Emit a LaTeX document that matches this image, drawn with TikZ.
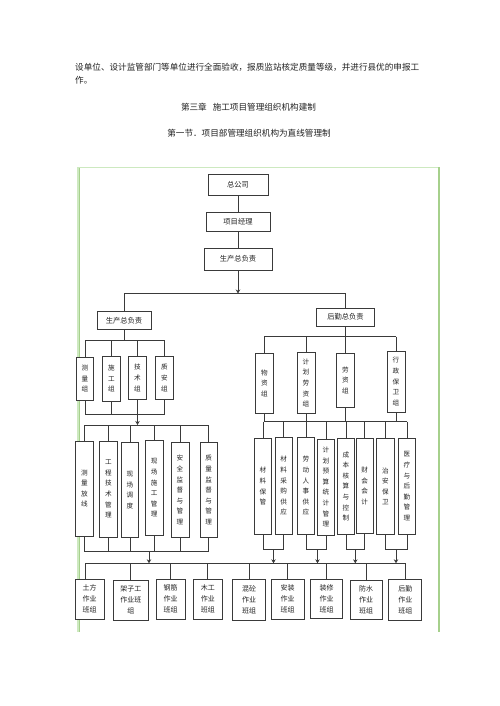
\documentclass[tikz,border=0pt]{standalone}
\usepackage{fontspec}
\setmainfont{Noto Sans CJK SC}
\usetikzlibrary{arrows.meta}
\definecolor{boxc}{HTML}{3A3A3A}
\definecolor{linec}{HTML}{3A3A3A}
\definecolor{txtc}{HTML}{222222}
\definecolor{frameA}{HTML}{CDE9C0}
\definecolor{frameB}{HTML}{A6D08C}
\begin{document}
\begin{tikzpicture}[x=1pt,y=-1pt,
 box/.style={draw=boxc,line width=0.9pt,fill=white,inner sep=0pt,align=center,text=txtc},
 hbox/.style={box,font=\fontsize{7.3}{9}\selectfont},
 vbox/.style={box,font=\fontsize{6.6}{10.6}\selectfont,minimum width=17.5pt},
 bbox/.style={box,font=\fontsize{7}{11}\selectfont,minimum height=40pt},
 ln/.style={draw=linec,line width=0.8pt},
 arr/.style={ln,-{Stealth[length=4pt,width=4.5pt]}},
 ttl/.style={font=\fontsize{8.6}{11}\selectfont,text=txtc,inner sep=0pt},
]
\useasboundingbox[fill=white] (0,0) rectangle (500,706);

% frame
\fill[frameA] (76.5,167) rectangle (79,632);
\draw[frameB,line width=0.8pt] (79.3,167) -- (79.3,632);
\draw[frameA,line width=1pt] (78,167) -- (439,167);
\draw[frameB,line width=1.4pt] (439,167) -- (439,632);

% text
\node[ttl,anchor=west] (t1) at (75,67) {设单位、设计监管部门等单位进行全面验收，报质监站核定质量等级，并进行县优的申报工};
\node[ttl,anchor=west] (t2) at (75,80) {作。};
\node[ttl] (t3) at (248.5,107) {第三章\hspace{6pt}施工项目管理组织机构建制};
\node[ttl] (t4) at (249,133) {第一节．项目部管理组织机构为直线管理制};

% top chain
\node[hbox,minimum width=60pt,minimum height=21pt] (gs) at (238,184.5) {总公司};
\node[hbox,minimum width=64pt,minimum height=19pt] (xm) at (238,221.5) {项目经理};
\node[hbox,minimum width=68pt,minimum height=22pt] (sc0) at (238,259) {生产总负责};
\coordinate (j0) at (238,293.5);
\draw[ln] (gs) -- (xm);
\draw[ln] (xm) -- (sc0);
\draw[arr] (sc0) -- (j0);

\node[hbox,minimum width=54pt,minimum height=18pt] (scL) at (124,320.5) {生产总负责};
\node[hbox,minimum width=58pt,minimum height=18pt] (hq) at (345.5,317) {后勤总负责};
\draw[ln] (scL.north) -- (scL.north |- j0) -- (hq.north |- j0) -- (hq.north);

% left group
\node[vbox,minimum height=43pt] (L1) at (85,378.5) {测\\量\\组};
\node[vbox,minimum height=45pt] (L2) at (111.5,378.5) {施\\工\\组};
\node[vbox,minimum height=43pt] (L3) at (137.5,378) {技\\术\\组};
\node[vbox,minimum height=43pt] (L4) at (164.5,378) {质\\安\\组};
\coordinate (jL) at (124,340.7);
\draw[ln] (scL.south) -- (jL);
\draw[ln] (jL -| L1.north) -- (jL -| L4.north);
\foreach \n in {L1,L2,L3,L4} \draw[ln] (jL -| \n.north) -- (\n.north);
\coordinate (kL) at (137.5,414.3);
\foreach \n in {L1,L2,L3,L4} \draw[ln] (\n.south) -- (\n.south |- kL);
\draw[ln] (kL -| L1.south) -- (kL -| L4.south);
\coordinate (mL) at (137.5,425);
\draw[arr] (kL) -- (mL);

% left lower group
\node[vbox,minimum height=95pt] (P1) at (84.3,488.5) {测\\量\\放\\线};
\node[vbox,minimum height=96pt] (P2) at (108.3,489) {工\\程\\技\\术\\管\\理};
\node[vbox,minimum height=95pt] (P3) at (130,490) {现\\场\\调\\度};
\node[vbox,minimum height=95pt] (P4) at (154.2,488) {现\\场\\施\\工\\管\\理};
\node[vbox,minimum height=95pt,minimum width=18pt] (P5) at (180,490) {安\\全\\监\\督\\与\\管\\理};
\node[vbox,minimum height=95pt] (P6) at (208.7,490) {质\\量\\监\\督\\与\\管\\理};
\draw[ln] (mL -| P1.north) -- (mL -| P6.north);
\foreach \n in {P1,P2,P3,P4,P5,P6} \draw[ln] (mL -| \n.north) -- (\n.north);
\coordinate (yP) at (0,551.7);
\foreach \n in {P1,P2,P3,P4,P5,P6} \draw[ln] (\n.south) -- (\n.south |- yP);
\draw[ln] (P1.south |- yP) -- (P6.south |- yP);
\coordinate (aP) at (149,563.3);
\draw[arr] (aP |- yP) -- (aP);

% right group
\node[vbox,minimum height=60pt] (R1) at (264.3,383.3) {物\\资\\组};
\node[vbox,minimum height=61pt,minimum width=18pt] (R2) at (306,383) {计\\划\\劳\\资\\组};
\node[vbox,minimum height=54pt] (R3) at (345.3,380.3) {劳\\资\\组};
\node[vbox,minimum height=61pt,minimum width=18pt] (R4) at (396,381.5) {行\\政\\保\\卫\\组};
\coordinate (jR) at (345.3,336.7);
\draw[ln] (hq.south) -- (hq.south |- jR);
\draw[ln] (jR -| R1.north) -- (jR -| R4.north);
\foreach \n in {R1,R2,R3,R4} \draw[ln] (jR -| \n.north) -- (\n.north);

% right lower group
\node[vbox,minimum height=96pt] (Q1) at (263,486.3) {材\\料\\保\\管};
\node[vbox,minimum height=97pt] (Q2) at (283.7,486) {材\\料\\采\\购\\供\\应};
\node[vbox,minimum height=97pt] (Q3) at (306,486) {劳\\动\\人\\事\\供\\应};
\node[vbox,minimum height=96pt] (Q4) at (326,487) {计\\划\\预\\算\\统\\计\\管\\理};
\node[vbox,minimum height=96pt] (Q5) at (346,486.3) {成\\本\\核\\算\\与\\控\\制};
\node[vbox,minimum height=95pt] (Q6) at (364.7,486) {财\\会\\会\\计};
\node[vbox,minimum height=96pt] (Q7) at (385.3,486.3) {治\\安\\保\\卫};
\node[vbox,minimum height=96pt] (Q8) at (407,486.3) {医\\疗\\与\\后\\勤\\管\\理};
\coordinate (kR) at (0,421.7);
\foreach \n in {R1,R2,R3,R4} \draw[ln] (\n.south) -- (\n.south |- kR);
\draw[ln] (R1.south |- kR) -- (Q8.north |- kR);
\foreach \n in {Q1,Q2,Q3,Q4,Q5,Q6,Q7,Q8} \draw[ln] (\n.north |- kR) -- (\n.north);
\coordinate (yQ) at (0,549.3);
\coordinate (a1) at (273.5,563.3);
\coordinate (a2) at (317.5,563.3);
\coordinate (a3) at (355.3,563.3);
\coordinate (a4) at (396,563.3);
\foreach \a/\b/\c in {Q1/Q2/a1,Q3/Q4/a2,Q5/Q6/a3,Q7/Q8/a4}{
  \draw[ln] (\a.south) -- (\a.south |- yQ) -- (\b.south |- yQ) -- (\b.south);
  \draw[arr] (\c |- yQ) -- (\c);
}

% bottom row
\node[bbox,minimum width=29pt] (B1) at (89.7,599) {土方\\作业\\班组};
\node[bbox,minimum width=35pt] (B2) at (130.8,600) {架子工\\作业班\\组};
\node[bbox,minimum width=29pt] (B3) at (170.5,599) {钢筋\\作业\\班组};
\node[bbox,minimum width=29pt] (B4) at (207.8,599) {木工\\作业\\班组};
\node[bbox,minimum width=33pt,minimum height=41pt] (B5) at (249.2,599.5) {混砼\\作业\\班组};
\node[bbox,minimum width=33pt] (B6) at (287.5,599) {安装\\作业\\班组};
\node[bbox,minimum width=32pt,minimum height=39pt] (B7) at (326.7,599) {装修\\作业\\班组};
\node[bbox,minimum width=32pt,minimum height=39pt] (B8) at (366,600) {防水\\作业\\班组};
\node[bbox,minimum width=33pt,minimum height=41pt] (B9) at (405.3,599.5) {后勤\\作业\\班组};
\coordinate (d1) at (85,563.3);
\draw[ln] (d1) -- (B9.north |- d1);
\draw[ln] (d1) -- (d1 |- B1.north);
\foreach \n in {B2,B3,B4,B5,B6,B7,B8,B9} \draw[ln] (\n.north |- d1) -- (\n.north);
\end{tikzpicture}
\end{document}
